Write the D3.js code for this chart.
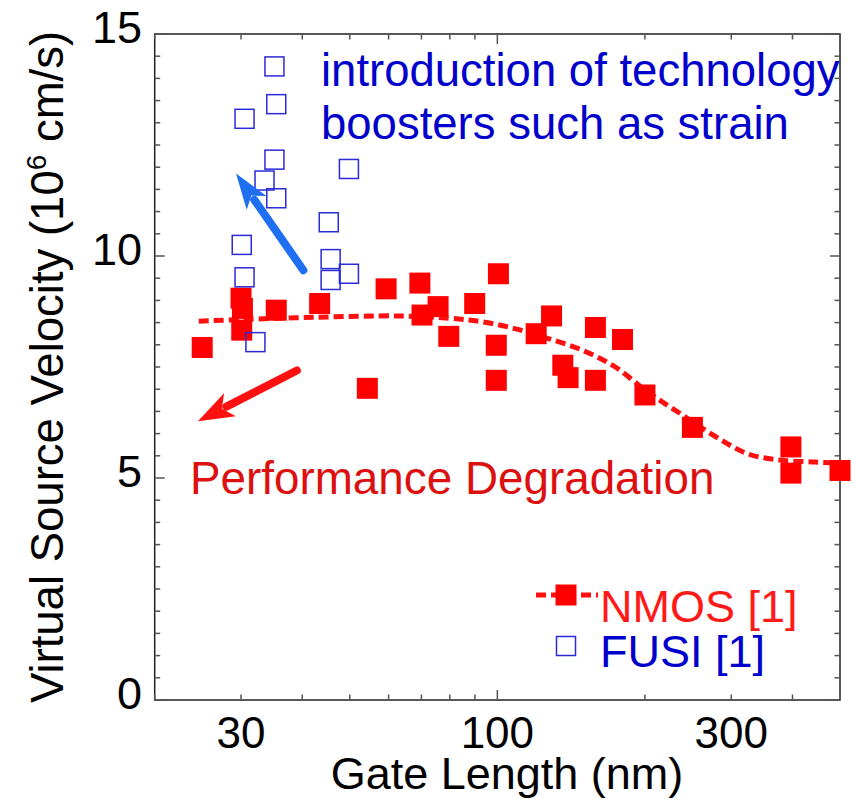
<!DOCTYPE html>
<html>
<head>
<meta charset="utf-8">
<script src="https://cdn.jsdelivr.net/npm/d3@7"></script>
<style>
  body { margin: 0; background: #fff; }
  text { font-family: "Liberation Sans", Arial, sans-serif; }
</style>
</head>
<body>
<svg id="chart" width="855" height="799"></svg>
<script>
// NMOS data [gate length nm, velocity 1e6 cm/s]
var nmosData = [
  [25, 7.94], [30, 9.05], [30.2, 8.82], [30.1, 8.33], [35.4, 8.78], [43.4, 8.93],
  [54.3, 7.02], [59.3, 9.26], [69.5, 9.39], [70.2, 8.67], [75.7, 8.86], [79.6, 8.19],
  [89.9, 8.93], [100.5, 9.60], [99.5, 7.99], [99.5, 7.20], [120, 8.25], [129, 8.65],
  [136, 7.54], [139.4, 7.26], [158.5, 8.39], [158.5, 7.20], [180, 8.12], [200, 6.87],
  [250, 6.14], [397, 5.70], [397, 5.11], [500, 5.17]
];
// FUSI data
var fusiData = [
  [35.1, 14.27], [35.4, 13.42], [30.5, 13.09], [35.1, 12.17], [33.5, 11.70], [35.4, 11.30],
  [49.8, 11.96], [45.3, 10.76], [30.1, 10.25], [30.5, 9.52], [45.7, 9.93], [45.7, 9.46],
  [49.8, 9.60], [32.1, 8.06]
];
// dashed fit through NMOS
var fitData = [
  [24.6, 8.53], [30, 8.57], [42.6, 8.62], [63, 8.65], [79.6, 8.60], [93, 8.52],
  [109, 8.36], [127, 8.14], [149, 7.88], [174, 7.50], [203, 6.93], [237, 6.44],
  [278, 5.94], [325, 5.54], [380, 5.40], [445, 5.36], [500, 5.33]
];
var xTickLabels = [30, 100, 300];
var xMinorTicks = [20, 30, 40, 50, 60, 70, 80, 90, 200, 300, 400];
var xMajorTicks = [100];
var yTickLabels = [0, 5, 10, 15];
// arrows [[x0,y0],[x1,y1]] in data units, tail -> tip
var blueArrow = [[40.2, 9.68], [29.3, 11.86]];
var redArrow = [[39.0, 7.42], [24.5, 6.28]];

var svg = d3.select("#chart");
var pLeft = 154.7, pRight = 840, pTop = 34, pBottom = 700;

var x = d3.scaleLog().domain([20, 500]).range([pLeft, pRight]);
var y = d3.scaleLinear().domain([0, 15]).range([pBottom, pTop]);

var tickColor = "#555";

// frame
svg.append("rect")
    .attr("x", pLeft).attr("y", pTop)
    .attr("width", pRight - pLeft).attr("height", pBottom - pTop)
    .attr("fill", "none").attr("stroke", "#222").attr("stroke-width", 1.5);

// x ticks, top and bottom, inward
function xTicks(vals, len) {
  vals.forEach(function(v) {
    svg.append("line").attr("x1", x(v)).attr("x2", x(v))
        .attr("y1", pBottom).attr("y2", pBottom - len)
        .attr("stroke", tickColor).attr("stroke-width", 1.5);
    svg.append("line").attr("x1", x(v)).attr("x2", x(v))
        .attr("y1", pTop).attr("y2", pTop + len)
        .attr("stroke", tickColor).attr("stroke-width", 1.5);
  });
}
xTicks(xMinorTicks, 5.5);
xTicks(xMajorTicks, 10);

// y ticks, left and right, inward
var yMinor = d3.range(0, 15.01, 0.5);
yMinor.forEach(function(v) {
  var len = (v % 5 === 0) ? 10 : 5.5;
  svg.append("line").attr("x1", pLeft).attr("x2", pLeft + len)
      .attr("y1", y(v)).attr("y2", y(v))
      .attr("stroke", tickColor).attr("stroke-width", 1.5);
  svg.append("line").attr("x1", pRight).attr("x2", pRight - len)
      .attr("y1", y(v)).attr("y2", y(v))
      .attr("stroke", tickColor).attr("stroke-width", 1.5);
});

// tick labels
svg.selectAll(".xlab").data(xTickLabels).enter().append("text")
    .attr("x", function(d) { return x(d); })
    .attr("y", 748)
    .attr("text-anchor", "middle")
    .style("font-size", "44px")
    .text(function(d) { return d; });

svg.selectAll(".ylab").data(yTickLabels).enter().append("text")
    .attr("x", 142)
    .attr("y", function(d) { return y(d) + 9; })
    .attr("text-anchor", "end")
    .style("font-size", "45px")
    .text(function(d) { return d; });

// axis titles
svg.append("text")
    .attr("x", 507).attr("y", 789)
    .attr("text-anchor", "middle")
    .style("font-size", "45px")
    .text("Gate Length (nm)");

var yt = svg.append("text")
    .attr("transform", "translate(63,367) rotate(-90)")
    .attr("text-anchor", "middle")
    .style("font-size", "45.5px");
yt.append("tspan").text("Virtual Source Velocity (10");
yt.append("tspan").attr("dy", -17).style("font-size", "28px").text("6");
yt.append("tspan").attr("dy", 17).text(" cm/s)");

// fit line
var line = d3.line()
    .x(function(d) { return x(d[0]); })
    .y(function(d) { return y(d[1]); })
    .curve(d3.curveCatmullRom);

svg.append("path")
    .datum(fitData)
    .attr("fill", "none")
    .attr("stroke", "#ff1010")
    .attr("stroke-width", 5)
    .attr("stroke-dasharray", "10,5")
    .attr("d", line);

// NMOS squares
var ms = 21;
svg.selectAll(".nmos").data(nmosData).enter().append("rect")
    .attr("x", function(d) { return x(d[0]) - ms / 2; })
    .attr("y", function(d) { return y(d[1]) - ms / 2; })
    .attr("width", ms).attr("height", ms)
    .attr("fill", "#ff0000");

// FUSI open squares
var fs = 19;
svg.selectAll(".fusi").data(fusiData).enter().append("rect")
    .attr("x", function(d) { return x(d[0]) - fs / 2; })
    .attr("y", function(d) { return y(d[1]) - fs / 2; })
    .attr("width", fs).attr("height", fs)
    .attr("fill", "none")
    .attr("stroke", "#2a2ad8").attr("stroke-width", 1.5);

// arrows
function arrow(a, color, w, hl, hw) {
  var x0 = x(a[0][0]), y0 = y(a[0][1]), x1 = x(a[1][0]), y1 = y(a[1][1]);
  var dx = x1 - x0, dy = y1 - y0, L = Math.sqrt(dx * dx + dy * dy);
  var ux = dx / L, uy = dy / L;
  var bx = x1 - ux * hl, by = y1 - uy * hl;
  svg.append("line")
      .attr("x1", x0).attr("y1", y0)
      .attr("x2", bx + ux * 4).attr("y2", by + uy * 4)
      .attr("stroke", color).attr("stroke-width", w)
      .attr("stroke-linecap", "round");
  var pts = [[x1, y1],
             [bx - uy * hw, by + ux * hw],
             [x1 - ux * hl * 0.75, y1 - uy * hl * 0.75],
             [bx + uy * hw, by - ux * hw]];
  svg.append("polygon")
      .attr("points", pts.map(function(p) { return p.join(","); }).join(" "))
      .attr("fill", color);
}
arrow(blueArrow, "#1f6ff2", 8, 36, 12);
arrow(redArrow, "#ff1010", 8, 36, 13);

// annotations
svg.append("text").attr("x", 321).attr("y", 86)
    .style("font-size", "45.5px").attr("fill", "#0000cc")
    .text("introduction of technology");
svg.append("text").attr("x", 321).attr("y", 139)
    .style("font-size", "45.5px").attr("fill", "#0000cc")
    .text("boosters such as strain");
svg.append("text").attr("x", 190).attr("y", 494)
    .style("font-size", "45.8px").attr("fill", "#dd1010")
    .text("Performance Degradation");

// legend
svg.append("line").attr("x1", 536).attr("x2", 598)
    .attr("y1", 595).attr("y2", 595)
    .attr("stroke", "#ff1010").attr("stroke-width", 5)
    .attr("stroke-dasharray", "10,5");
svg.append("rect").attr("x", 566 - ms / 2).attr("y", 595 - ms / 2)
    .attr("width", ms).attr("height", ms).attr("fill", "#ff0000");
svg.append("text").attr("x", 600).attr("y", 622)
    .style("font-size", "45px").attr("fill", "#ff1a1a")
    .text("NMOS [1]");
svg.append("rect").attr("x", 566 - fs / 2).attr("y", 646 - fs / 2)
    .attr("width", fs).attr("height", fs)
    .attr("fill", "none").attr("stroke", "#2a2ad8").attr("stroke-width", 1.5);
svg.append("text").attr("x", 600).attr("y", 667)
    .style("font-size", "45px").attr("fill", "#0000cc")
    .text("FUSI [1]");
</script>
</body>
</html>
